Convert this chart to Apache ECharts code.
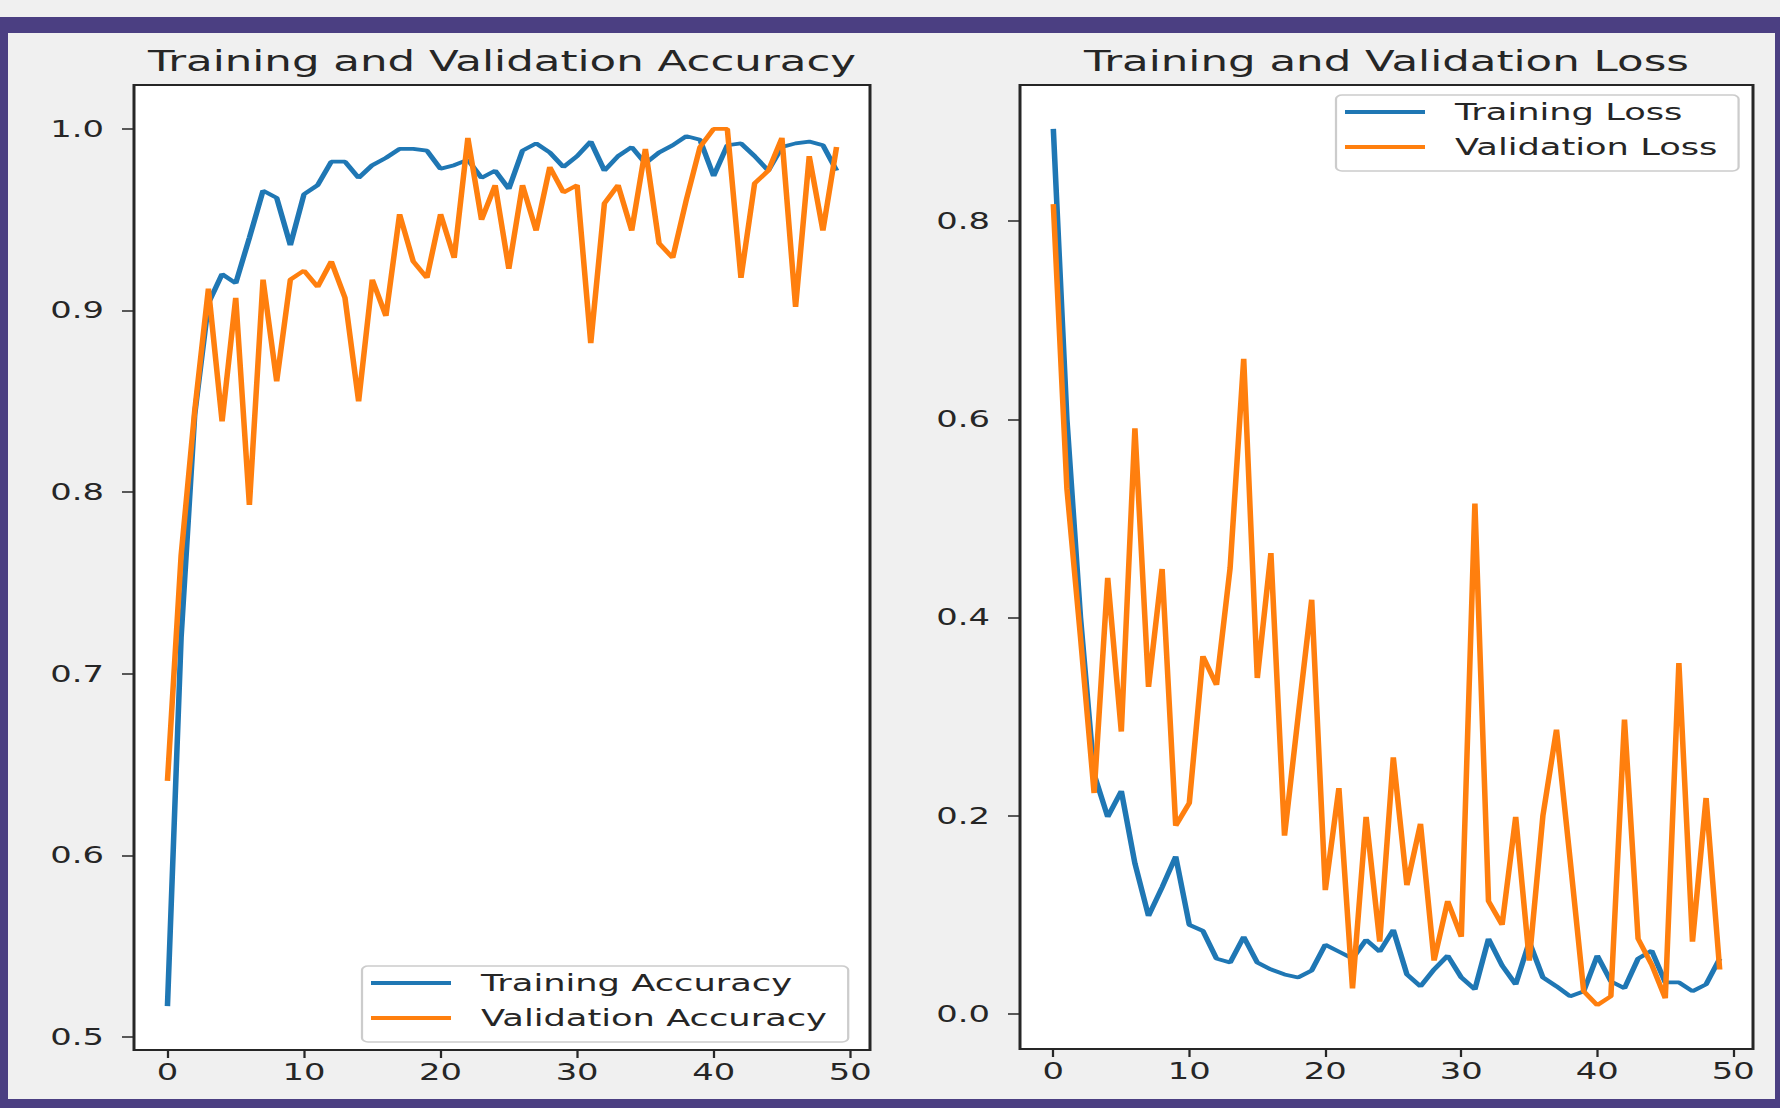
<!DOCTYPE html>
<html>
<head>
<meta charset="utf-8">
<title>Training and Validation</title>
<script src="https://cdn.jsdelivr.net/npm/echarts@6/dist/echarts.min.js"></script>
<style>
  html, body { margin: 0; padding: 0; background: #f0f0f0; }
  body { width: 1780px; height: 1108px; overflow: hidden; position: relative; }
  .frame {
    position: absolute; left: 0; top: 17px; width: 1780px; height: 1091px;
    box-sizing: border-box; border: solid #4b3f82; border-width: 16px 5px 9px 8px;
  }
  /* the source figure is stretched sideways, so the chart is drawn narrow and widened */
  .stretch {
    position: absolute; left: 0; top: 0; width: 1186.67px; height: 1108px;
    transform: scaleX(1.5); transform-origin: 0 0;
  }
</style>
</head>
<body>
<div class="frame"></div>
<div class="stretch" id="chart"></div>
<script>
// accuracy per epoch
const trainAcc = [
  0.517, 0.72, 0.843, 0.904, 0.920, 0.915, 0.940, 0.966, 0.962, 0.936,
  0.964, 0.969, 0.982, 0.982, 0.973, 0.980, 0.984, 0.989, 0.989, 0.988,
  0.978, 0.980, 0.983, 0.973, 0.977, 0.967, 0.988, 0.992, 0.987, 0.979,
  0.985, 0.993, 0.977, 0.985, 0.990, 0.981, 0.987, 0.991, 0.996, 0.994,
  0.974, 0.991, 0.992, 0.985, 0.977, 0.990, 0.992, 0.993, 0.991, 0.977
];
const valAcc = [
  0.641, 0.765, 0.845, 0.912, 0.839, 0.907, 0.793, 0.917, 0.861, 0.917,
  0.922, 0.913, 0.927, 0.907, 0.850, 0.917, 0.897, 0.953, 0.927, 0.918,
  0.953, 0.929, 0.995, 0.950, 0.969, 0.923, 0.969, 0.944, 0.979, 0.965,
  0.969, 0.882, 0.959, 0.969, 0.944, 0.989, 0.937, 0.929, 0.961, 0.990,
  1.000, 1.000, 0.918, 0.970, 0.977, 0.995, 0.902, 0.985, 0.944, 0.990
];

// loss per epoch
const trainLoss = [
  0.893, 0.60, 0.40, 0.242, 0.199, 0.225, 0.152, 0.099, 0.128, 0.159,
  0.090, 0.084, 0.056, 0.052, 0.078, 0.052, 0.045, 0.040, 0.037, 0.044,
  0.070, 0.063, 0.056, 0.075, 0.063, 0.085, 0.040, 0.028, 0.045, 0.059,
  0.037, 0.025, 0.076, 0.049, 0.030, 0.073, 0.037, 0.028, 0.018, 0.023,
  0.059, 0.033, 0.026, 0.056, 0.064, 0.032, 0.032, 0.023, 0.030, 0.056
];
const valLoss = [
  0.817, 0.53, 0.38, 0.223, 0.440, 0.285, 0.591, 0.330, 0.449, 0.190,
  0.213, 0.361, 0.332, 0.45, 0.661, 0.339, 0.465, 0.180, 0.30, 0.418,
  0.125, 0.228, 0.026, 0.199, 0.073, 0.259, 0.130, 0.192, 0.054, 0.114,
  0.078, 0.515, 0.114, 0.090, 0.199, 0.054, 0.20, 0.287, 0.156, 0.023,
  0.009, 0.018, 0.297, 0.076, 0.050, 0.016, 0.354, 0.073, 0.218, 0.045
];

const epochs = trainAcc.map((_, i) => i);

// tick labels
const epochTicks = [0, 10, 20, 30, 40, 50];
const accTicks = [0.5, 0.6, 0.7, 0.8, 0.9, 1.0];
const lossTicks = [0.0, 0.2, 0.4, 0.6, 0.8];

const FX = 1.5;             // horizontal stretch
const ux = (px) => px / FX; // page px -> chart px
const font = "DejaVu Sans";
const ink = "#262626";
const blue = "#1f77b4";
const orange = "#ff7f0e";

const pairs = (arr) => arr.map((v, i) => [epochs[i], v]);

// matplotlib style 5% margins
const padded = (lo, hi) => {
  const m = (hi - lo) * 0.05;
  return { min: lo - m, max: hi + m };
};
const xr = padded(epochs[0], epochs[epochs.length - 1]);
const accR = padded(Math.min(...trainAcc, ...valAcc), Math.max(...trainAcc, ...valAcc));
const lossR = padded(Math.min(...trainLoss, ...valLoss), Math.max(...trainLoss, ...valLoss));

const gridBase = {
  show: true,
  backgroundColor: "#ffffff",
  borderColor: ink,
  borderWidth: 2,
};

const xAxisFor = (gridIndex) => ({
  gridIndex: gridIndex,
  type: "value",
  min: xr.min,
  max: xr.max,
  splitLine: { show: false },
  axisLine: { show: false, onZero: false },
  axisTick: { show: true, inside: false, length: 8, lineStyle: { color: ink, width: 1.5 }, customValues: epochTicks },
  axisLabel: {
    customValues: epochTicks,
    margin: 11,
    fontFamily: font,
    fontSize: 22.5,
    color: ink,
    formatter: (v) => String(v),
  },
});

const yAxisFor = (gridIndex, range, ticks) => ({
  gridIndex: gridIndex,
  type: "value",
  min: range.min,
  max: range.max,
  splitLine: { show: false },
  axisLine: { show: false, onZero: false },
  axisTick: { show: true, inside: false, length: 8, lineStyle: { color: ink, width: 1.5 }, customValues: ticks },
  axisLabel: {
    customValues: ticks,
    margin: 20,
    fontFamily: font,
    fontSize: 22.5,
    color: ink,
    formatter: (v) => v.toFixed(1),
  },
});

const lineSeries = (name, data, color, idx) => ({
  type: "line",
  name: name,
  xAxisIndex: idx,
  yAxisIndex: idx,
  data: pairs(data),
  symbol: "none",
  lineStyle: { color: color, width: 3.7 },
  itemStyle: { color: color },
});

const legendBase = {
  orient: "vertical",
  icon: "rect",
  itemWidth: ux(80),
  itemHeight: 4,
  itemGap: 11,
  padding: [5, 14, 12, 6],
  backgroundColor: "rgba(255,255,255,0.8)",
  borderColor: "#cccccc",
  borderWidth: 1.5,
  borderRadius: 4,
  selectedMode: false,
  textStyle: { fontFamily: font, fontSize: 23.5, color: ink, padding: [0, 0, 0, 15] },
};

const titleText = (text, cx) => ({
  type: "text",
  x: ux(cx),
  y: 61,
  style: {
    text: text,
    fontFamily: font,
    fontSize: 29,
    fill: ink,
    align: "center",
    verticalAlign: "middle",
  },
});

const option = {
  animation: false,
  textStyle: { fontFamily: font },
  grid: [
    Object.assign({ left: ux(134), top: 85, width: ux(736), height: 965 }, gridBase),
    Object.assign({ left: ux(1020), top: 85, width: ux(733), height: 964 }, gridBase),
  ],
  xAxis: [xAxisFor(0), xAxisFor(1)],
  yAxis: [yAxisFor(0, accR, accTicks), yAxisFor(1, lossR, lossTicks)],
  legend: [
    Object.assign({ data: ["Training Accuracy", "Validation Accuracy"], left: ux(362), top: 966 }, legendBase),
    Object.assign({ data: ["Training Loss", "Validation Loss"], left: ux(1336), top: 95 }, legendBase),
  ],
  graphic: [
    titleText("Training and Validation Accuracy", 502),
    titleText("Training and Validation Loss", 1386.5),
  ],
  series: [
    lineSeries("Training Accuracy", trainAcc, blue, 0),
    lineSeries("Validation Accuracy", valAcc, orange, 0),
    lineSeries("Training Loss", trainLoss, blue, 1),
    lineSeries("Validation Loss", valLoss, orange, 1),
  ],
};

const element = document.getElementById("chart");
const myChart = echarts.init(element, null, { renderer: "svg", width: 1780 / FX, height: 1108 });
myChart.setOption(option);
</script>
</body>
</html>
